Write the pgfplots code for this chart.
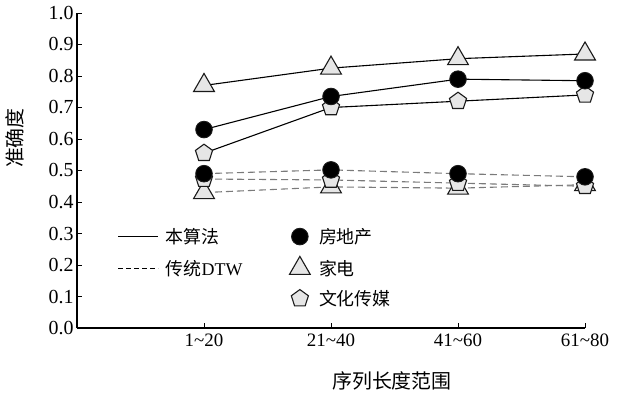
\documentclass[border=0pt]{standalone}
\usepackage{pgfplots}
\pgfplotsset{compat=1.18}
\usepackage{fontspec}
\setmainfont{Liberation Serif}
\newfontfamily\cjk{Noto Sans CJK SC}
\definecolor{mkfill}{HTML}{E6E6E6}
\definecolor{dashgray}{HTML}{7A7A7A}
\definecolor{edge}{HTML}{1A1A1A}
\pgfplotsset{
  linelegend/.style={legend image code/.code={\draw[##1] (0bp,0bp) -- (40bp,0bp); \path (45bp,0bp);}},
  mklegend/.style={legend image code/.code={\draw[##1] plot coordinates {(10bp,0bp)}; \path (27bp,0bp);}},
  circ/.style={mark=*, mark size=8.3bp, mark options={fill=black, draw=edge, solid, line width=0.9bp}},
  tri/.style={mark=triangle*, mark size=12bp, mark options={fill=mkfill, draw=edge, solid, line width=1.1bp}},
  pent/.style={mark=pentagon*, mark size=9bp, mark options={fill=mkfill, draw=edge, solid, line width=1.1bp}},
}
\pgfplotstableread{
x  fdcA   jdA    whA    fdcB   jdB    whB
0  0.630  0.770  0.555  0.490  0.430  0.473
1  0.735  0.825  0.700  0.502  0.448  0.470
2  0.790  0.855  0.720  0.490  0.444  0.460
3  0.785  0.870  0.740  0.480  0.455  0.450
}\datatable
\begin{document}
\begin{tikzpicture}
\begin{axis}[
  scale only axis, width=508bp, height=315bp,
  xmin=-1, xmax=3, ymin=0, ymax=1,
  axis x line=bottom, axis y line=left,
  axis line style={-, line width=1.1bp, black},
  tick align=inside, major tick length=5bp,
  tick style={line width=1bp, black},
  xtick={0,1,2,3},
  xticklabels={1\textasciitilde20, 21\textasciitilde40, 41\textasciitilde60, 61\textasciitilde80},
  ytick={0,0.1,...,1.0},
  /pgf/number format/assume math mode=true,
  xticklabel style={font=\fontsize{19}{19}\selectfont, yshift=-2bp},
  yticklabel style={font=\fontsize{20}{20}\selectfont, /pgf/number format/.cd, fixed, fixed zerofill, precision=1},
  xlabel={\cjk 序列长度范围},
  ylabel={\cjk 准确度},
  label style={font=\fontsize{20}{20}\selectfont},
  xlabel style={at={(axis description cs:0.62,0)}, anchor=center, yshift=-53bp},
  ylabel style={at={(axis description cs:-0.122,0.603)}, anchor=center},
  clip=false,
  legend columns=2,
  legend style={at={(axis description cs:0.074,0.33)}, anchor=north west, draw=none, fill=none,
    font=\fontsize{18}{18}\selectfont, row sep=9.5bp,
    /tikz/every even column/.append style={column sep=45bp}},
  legend cell align=left,
]
\addlegendimage{linelegend, black, line width=1bp}
\addlegendentry{\cjk 本算法}
\addlegendimage{mklegend, only marks, circ}
\addlegendentry{\cjk 房地产}
\addlegendimage{linelegend, black, dash pattern=on 5bp off 3bp, line width=1bp}
\addlegendentry{\cjk 传统\rmfamily DTW}
\addlegendimage{mklegend, only marks, tri}
\addlegendentry{\cjk 家电}
\addlegendimage{empty legend}
\addlegendentry{\phantom{x}}
\addlegendimage{mklegend, only marks, pent}
\addlegendentry{\cjk 文化传媒}

% dashed series (traditional DTW)
\addplot[forget plot, only marks, tri] table[x=x, y=jdB] {\datatable};
\addplot[forget plot, only marks, pent] table[x=x, y=whB] {\datatable};
\addplot[forget plot, only marks, circ] table[x=x, y=fdcB] {\datatable};
\addplot[forget plot, no marks, dashgray, dash pattern=on 7bp off 4bp, line width=1.1bp] table[x=x, y=jdB] {\datatable};
\addplot[forget plot, no marks, dashgray, dash pattern=on 7bp off 4bp, line width=1.1bp] table[x=x, y=whB] {\datatable};
\addplot[forget plot, no marks, dashgray, dash pattern=on 7bp off 4bp, line width=1.1bp] table[x=x, y=fdcB] {\datatable};
% solid series (this algorithm)
\addplot[forget plot, only marks, tri] table[x=x, y=jdA] {\datatable};
\addplot[forget plot, only marks, pent] table[x=x, y=whA] {\datatable};
\addplot[forget plot, only marks, circ] table[x=x, y=fdcA] {\datatable};
\addplot[forget plot, no marks, black, line width=1.1bp] table[x=x, y=jdA] {\datatable};
\addplot[forget plot, no marks, black, line width=1.1bp] table[x=x, y=whA] {\datatable};
\addplot[forget plot, no marks, black, line width=1.1bp] table[x=x, y=fdcA] {\datatable};
% fix the picture's extent to the reference's margins
\path (axis description cs:-0.1516,-0.2159) rectangle (axis description cs:1.0669,1.0413);
\end{axis}
\end{tikzpicture}
\end{document}
